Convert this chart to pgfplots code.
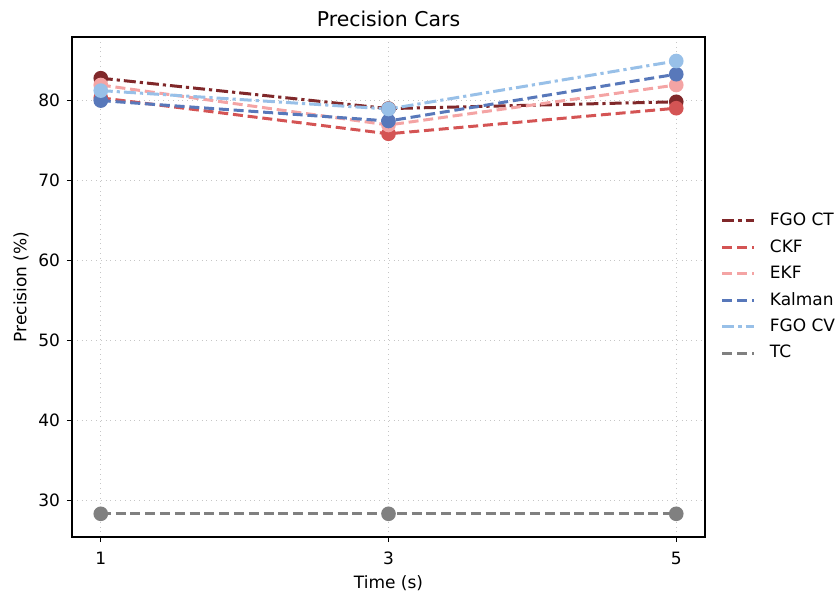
\documentclass[border=0pt]{standalone}
\usepackage{pgfplots}
\pgfplotsset{compat=1.18}
\usepackage{fontspec}
\setmainfont{DejaVu Sans}
\definecolor{cFGOCT}{RGB}{128,40,42}
\definecolor{cCKF}{RGB}{212,84,84}
\definecolor{cEKF}{RGB}{244,164,164}
\definecolor{cKal}{RGB}{88,120,186}
\definecolor{cFGOCV}{RGB}{152,192,232}
\definecolor{cTC}{RGB}{128,128,128}
\begin{document}
\begin{tikzpicture}
\begin{axis}[
  name=ax,
  scale only axis,
  width=316.5pt, height=250pt,
  xmin=0.8, xmax=5.2, ymin=25.4, ymax=87.9,
  xtick={1,3,5}, ytick={30,40,50,60,70,80},
  tick align=outside, tick pos=left,
  major tick length=2.5pt,
  every tick/.style={black, line width=0.5pt},
  grid=major,
  grid style={dotted, gray!45, line width=0.4pt},
  axis line style={line width=0.6pt},
  /pgf/number format/assume math mode=true,
  tick label style={font=\fontsize{8.5}{10}\selectfont},
  xticklabel style={yshift=-1.5pt},
  label style={font=\fontsize{8.5}{10}\selectfont},
  xlabel style={yshift=1.5pt},
  ylabel style={yshift=-2pt},
  title style={font=\fontsize{10.2}{12}\selectfont, yshift=-4.5pt},
  title={Precision Cars},
  xlabel={Time (s)}, ylabel={Precision (\%)},
  legend style={at={(1.015,0.5)}, anchor=west, draw=none, fill=none,
    font=\fontsize{8.5}{10}\selectfont, row sep=3.4pt,
    nodes={inner sep=1pt}},
  legend cell align=left,
  legend image code/.code={\draw[#1, mark=none] (0pt,0pt) -- (16pt,0pt); \path (22pt,0pt);},
  every axis plot/.append style={line width=1.5pt, mark=*, mark size=2.9pt, mark options={solid}},
]
\addplot[color=cFGOCT, dash pattern=on 6pt off 2pt on 1.6pt off 2pt] coordinates {(1,82.75) (3,78.95) (5,79.8)};
\addlegendentry{FGO CT}
\addplot[color=cCKF, dash pattern=on 5pt off 2.4pt] coordinates {(1,80.3) (3,75.8) (5,79.0)};
\addlegendentry{CKF}
\addplot[color=cEKF, dash pattern=on 5pt off 2.4pt] coordinates {(1,81.9) (3,76.9) (5,81.9)};
\addlegendentry{EKF}
\addplot[color=cKal, dash pattern=on 5pt off 2.4pt] coordinates {(1,79.95) (3,77.4) (5,83.25)};
\addlegendentry{Kalman}
\addplot[color=cFGOCV, dash pattern=on 6pt off 2pt on 1.6pt off 2pt] coordinates {(1,81.2) (3,78.9) (5,84.9)};
\addlegendentry{FGO CV}
\addplot[color=cTC, dash pattern=on 5pt off 2.4pt] coordinates {(1,28.3) (3,28.3) (5,28.3)};
\addlegendentry{TC}
\end{axis}
\pgfresetboundingbox
\path ([shift={(-36pt,-28.5pt)}]ax.south west) rectangle ([shift={(66pt,18.5pt)}]ax.north east);
\end{tikzpicture}
\end{document}
